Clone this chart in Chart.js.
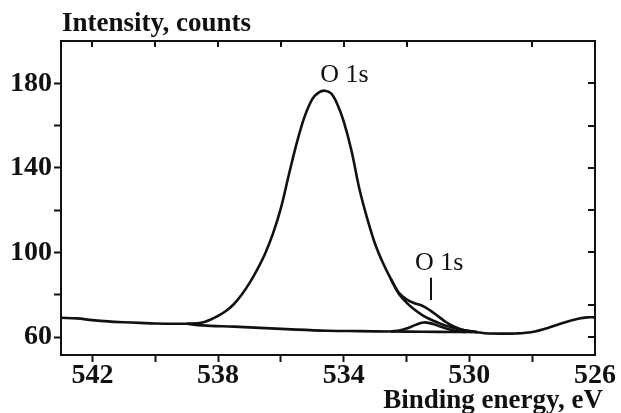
<!DOCTYPE html>
<html lang="en">
<head>
  <meta charset="UTF-8">
  <title>O 1s spectrum</title>
  <script src="https://cdn.jsdelivr.net/npm/chart.js"></script>
  <style>
    html, body { margin: 0; padding: 0; background: #fff; }
    canvas { display: block; }
  </style>
</head>
<body>
  <canvas id="xps" width="621" height="413"></canvas>
  <script>
    // measured envelope: binding energy (eV) and intensity (counts)
    const envEnergy = [543, 542.5, 542, 541.5, 541, 540.5, 540, 539.5, 539, 538.5, 538.25, 538, 537.75, 537.5, 537.25, 537, 536.75, 536.5, 536.25, 536, 535.75, 535.5, 535.25, 535, 534.8, 534.6, 534.4, 534.2, 534, 533.75, 533.5, 533.25, 533, 532.75, 532.5, 532.25, 532, 531.75, 531.5, 531.25, 531, 530.75, 530.5, 530.25, 530, 529.75, 529.5, 529, 528.5, 528, 527.5, 527, 526.5, 526.25, 526];
    const envCounts = [69.1, 68.8, 68.0, 67.4, 67.0, 66.7, 66.4, 66.3, 66.3, 66.9, 68.2, 70.0, 72.3, 75.5, 80.0, 85.5, 92, 99.5, 109, 121, 136.5, 151.5, 164, 172.5, 175.6, 176.5, 175.2, 170, 162, 148, 130, 116, 104, 95, 87.5, 81, 77.8, 76.0, 74.8, 72.6, 69.9, 67.1, 65.0, 63.6, 62.8, 62.3, 61.8, 61.6, 61.7, 62.4, 64.3, 66.8, 68.8, 69.3, 69.3];

    // background under the peaks
    const bgEnergy = [539, 538.5, 537.5, 536.5, 535.5, 534.5, 533.5, 532.5, 531.5, 530.5, 529.75];
    const bgCounts = [66.3, 65.5, 64.9, 64.2, 63.5, 63.0, 62.8, 62.6, 62.5, 62.4, 62.3];

    // main component where it leaves the envelope
    const mainEnergy = [532.5, 532.25, 532, 531.75, 531.5, 531.25, 531, 530.75, 530.5, 530.25, 530, 529.75];
    const mainCounts = [87.5, 80.6, 76.3, 73.0, 70.4, 68.4, 66.8, 65.4, 64.3, 63.4, 62.8, 62.3];

    // small low-energy component
    const smallEnergy = [532.5, 532.2, 532, 531.8, 531.6, 531.45, 531.3, 531.1, 530.9, 530.7, 530.5, 530.3, 530.1];
    const smallCounts = [62.6, 63.2, 64.0, 65.2, 66.4, 66.9, 66.7, 65.9, 64.9, 63.9, 63.1, 62.6, 62.4];

    // tick marks on the mirrored top / right frame
    const topTicks = [542, 540, 538, 536, 534, 532, 528];
    const rightTicks = [180, 160, 140, 120, 100, 75, 60];

    const ink = '#111';
    const serif = "'Liberation Serif', 'Times New Roman', serif";

    const toPoints = (xs, ys) => xs.map((e, i) => ({ x: e, y: ys[i] }));

    const line = (pts) => ({
      data: pts,
      showLine: true,
      borderColor: ink,
      borderWidth: 2.6,
      pointRadius: 0,
      tension: 0.35,
      fill: false
    });

    // frame, inner ticks and text labels
    const framePlugin = {
      id: 'frame',
      afterDraw(chart) {
        const { ctx, chartArea: a, scales: { x, y } } = chart;
        ctx.save();
        ctx.strokeStyle = ink;
        ctx.lineWidth = 2;
        ctx.beginPath();
        ctx.moveTo(a.left - 1, a.top);
        ctx.lineTo(a.right, a.top);
        ctx.lineTo(a.right, a.bottom + 1);
        topTicks.forEach(v => {
          const px = Math.round(x.getPixelForValue(v));
          ctx.moveTo(px, a.top);
          ctx.lineTo(px, a.top + 6);
        });
        rightTicks.forEach(v => {
          const py = Math.round(y.getPixelForValue(v));
          ctx.moveTo(a.right, py);
          ctx.lineTo(a.right - 7, py);
        });
        // marker under the small peak label
        const mx = Math.round(x.getPixelForValue(531.23));
        ctx.moveTo(mx, y.getPixelForValue(88));
        ctx.lineTo(mx, y.getPixelForValue(77.5));
        ctx.stroke();

        ctx.fillStyle = ink;
        ctx.textBaseline = 'alphabetic';
        ctx.font = 'bold 27px ' + serif;
        ctx.textAlign = 'left';
        ctx.fillText('Intensity, counts', a.left + 1, 31);
        ctx.textAlign = 'right';
        ctx.fillText('Binding energy, eV', a.right + 8, 408);

        ctx.font = '26px ' + serif;
        ctx.textAlign = 'left';
        ctx.fillText('O 1s', x.getPixelForValue(534.75), y.getPixelForValue(180.4));
        ctx.fillText('O 1s', x.getPixelForValue(531.73), y.getPixelForValue(91.6));
        ctx.restore();
      }
    };

    const tickFont = { family: serif, size: 28, weight: 'bold', lineHeight: 1 };

    new Chart(document.getElementById('xps'), {
      type: 'scatter',
      data: {
        datasets: [
          line(toPoints(envEnergy, envCounts)),
          line(toPoints(bgEnergy, bgCounts)),
          line(toPoints(mainEnergy, mainCounts)),
          line(toPoints(smallEnergy, smallCounts))
        ]
      },
      options: {
        responsive: false,
        animation: false,
        events: [],
        layout: { padding: { top: 41, right: 26, left: 0, bottom: 0 } },
        plugins: { legend: { display: false }, tooltip: { enabled: false } },
        scales: {
          x: {
            type: 'linear',
            reverse: true,
            min: 526,
            max: 543,
            afterFit: s => { s.height = 58; },
            border: { display: true, color: ink, width: 2 },
            grid: {
              drawOnChartArea: false,
              tickLength: 7,
              tickWidth: 2,
              tickColor: c => (c.tick && c.tick.value === 526) ? 'rgba(0,0,0,0)' : ink
            },
            ticks: {
              stepSize: 2,
              includeBounds: false,
              autoSkip: false,
              maxRotation: 0,
              padding: 0,
              color: ink,
              font: tickFont,
              callback: v => (v % 4 === 2 ? String(v) : '')
            }
          },
          y: {
            type: 'linear',
            min: 51.5,
            max: 200,
            afterFit: s => { s.width = 61; },
            border: { display: true, color: ink, width: 2 },
            grid: {
              drawOnChartArea: false,
              tickLength: 7,
              tickWidth: 2,
              tickColor: c => (c.tick && c.tick.value > 180) ? 'rgba(0,0,0,0)' : ink
            },
            ticks: {
              stepSize: 20,
              includeBounds: false,
              autoSkip: false,
              padding: 2,
              color: ink,
              font: tickFont,
              callback: v => ((v - 60) % 40 === 0 ? String(v) : '')
            }
          }
        }
      },
      plugins: [framePlugin]
    });
  </script>
</body>
</html>
